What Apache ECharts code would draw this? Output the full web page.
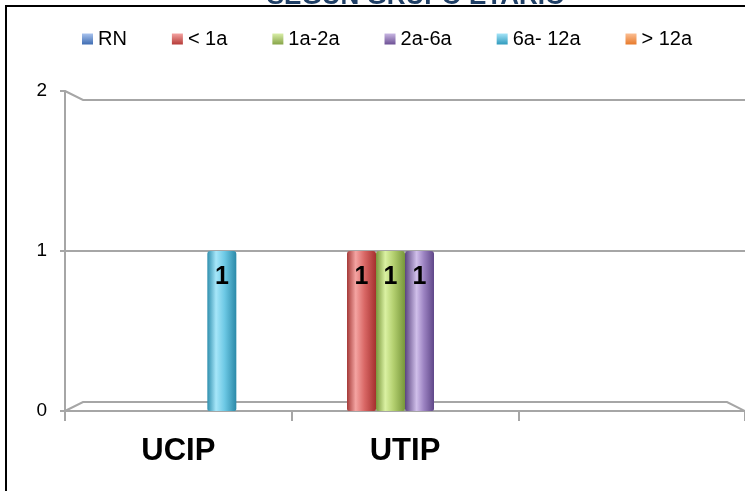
<!DOCTYPE html>
<html>
<head>
<meta charset="utf-8">
<script src="https://cdn.jsdelivr.net/npm/echarts@6/dist/echarts.min.js"></script>
<style>
html,body{margin:0;padding:0;background:#fff;}
#chart{width:745px;height:491px;}
</style>
</head>
<body>
<div id="chart"></div>
<script>
// ---- data ----
const titleText = 'SEGÚN GRUPO ETARIO';
const categories = ['UCIP', 'UTIP', ''];
const seriesNames = ['RN', '< 1a', '1a-2a', '2a-6a', '6a- 12a', '> 12a'];
const rn      = [null, null, null];
const lt1a    = [null, 1, null];
const a1to2   = [null, 1, null];
const a2to6   = [null, 1, null];
const a6to12  = [1, null, null];
const gt12a   = [null, null, null];
const yTicks  = [0, 1, 2];

const seriesData = [rn, lt1a, a1to2, a2to6, a6to12, gt12a];

// ---- styles ----
const FONT = 'Liberation Sans, Arial, sans-serif';
function hGrad(stops) {
  return new echarts.graphic.LinearGradient(0, 0, 1, 0, stops.map(c => ({offset: c[0], color: c[1]})));
}
function vGrad(top, bottom) {
  return new echarts.graphic.LinearGradient(0, 0, 0, 1, [{offset: 0, color: top}, {offset: 1, color: bottom}]);
}
const barColors = [
  hGrad([[0,'#3A64A8'],[0.3,'#A9C4F0'],[0.6,'#6F95D6'],[1,'#355E9F']]),
  hGrad([[0,'#A53A38'],[0.3,'#F4A4A2'],[0.6,'#D96866'],[1,'#A5302E']]),
  hGrad([[0,'#7A973C'],[0.32,'#DAF1A2'],[0.6,'#B4D070'],[1,'#77963A']]),
  hGrad([[0,'#5A4480'],[0.4,'#D0BFEA'],[0.65,'#9C83C2'],[1,'#5F4788']]),
  hGrad([[0,'#2F8FAE'],[0.3,'#A6E6F9'],[0.6,'#6CC8E4'],[1,'#2B89A8']]),
  hGrad([[0,'#D06A22'],[0.3,'#FCC59E'],[0.6,'#F39A58'],[1,'#CC6820']])
];
const legendColors = [
  vGrad('#A9C3EE', '#3E6CB2'),
  vGrad('#F4A3A1', '#B53A37'),
  vGrad('#D9EEA8', '#86A447'),
  vGrad('#C8B6E2', '#6D5095'),
  vGrad('#A4E4F8', '#2F9ABD'),
  vGrad('#FBBE93', '#E77A2A')
];
const GRID_LEFT = 65, GRID_RIGHT = 0, GRID_TOP = 91, GRID_BOTTOM = 80;
const LINE = '#A6A6A6';

const chart = echarts.init(document.getElementById('chart'), null, {renderer: 'canvas'});

const option = {
  animation: false,
  backgroundColor: '#ffffff',
  textStyle: {fontFamily: FONT},
  legend: {
    left: 82, top: 29, padding: 0,
    itemWidth: 11, itemHeight: 11, itemGap: 45,
    icon: 'rect',
    textStyle: {fontSize: 20, color: '#000', fontFamily: FONT},
    data: seriesNames.map((n, i) => ({name: n, itemStyle: {color: legendColors[i]}}))
  },
  grid: {left: GRID_LEFT, right: GRID_RIGHT, top: GRID_TOP, bottom: GRID_BOTTOM, containLabel: false},
  xAxis: {
    type: 'category',
    data: categories,
    axisLine: {show: true, lineStyle: {color: LINE, width: 2}},
    axisTick: {show: true, length: 10, lineStyle: {color: LINE, width: 2}},
    axisLabel: {fontSize: 31, fontWeight: 'bold', color: '#000', margin: 25, fontFamily: FONT}
  },
  yAxis: {
    type: 'value',
    min: yTicks[0], max: yTicks[yTicks.length - 1], interval: 1,
    axisLine: {show: true, lineStyle: {color: LINE, width: 2}},
    axisTick: {show: true, length: 5, lineStyle: {color: LINE, width: 2}},
    axisLabel: {fontSize: 19, color: '#000', margin: 18, fontFamily: FONT},
    splitLine: {show: false}
  },
  series: seriesNames.map((n, i) => ({
    name: n,
    type: 'bar',
    data: seriesData[i],
    barWidth: 29,
    barGap: '0%',
    itemStyle: {color: barColors[i], borderRadius: [3, 3, 2, 2]},
    label: {
      show: true, position: 'insideTop', distance: 14,
      fontSize: 25, fontWeight: 'bold', color: '#000', fontFamily: FONT,
      formatter: p => (p.value == null ? '' : String(p.value))
    },
    z: 3
  }))
};
chart.setOption(option);

// 3D-style wall / floor decoration derived from the axis scale
const W = 745, DX = 18, DY = 9;
const y0 = chart.convertToPixel({yAxisIndex: 0}, yTicks[0]);
const y1 = chart.convertToPixel({yAxisIndex: 0}, yTicks[1]);
const y2 = chart.convertToPixel({yAxisIndex: 0}, yTicks[2]);
const gl = GRID_LEFT;
const lineStyle = {stroke: LINE, lineWidth: 2, fill: null};
chart.setOption({
  graphic: [
    {type: 'polyline', z: 1, shape: {points: [[gl, y2], [gl + DX, y2 + DY], [W, y2 + DY]]}, style: lineStyle, silent: true},
    {type: 'line', z: 1, shape: {x1: gl - 3, y1: y1, x2: W, y2: y1}, style: lineStyle, silent: true},
    {type: 'polyline', z: 1, shape: {points: [[gl, y0], [gl + DX, y0 - DY], [W - DX, y0 - DY], [W, y0]]}, style: lineStyle, silent: true},
    {type: 'rect', z: 10, shape: {x: 6, y: 6, width: 800, height: 600}, style: {stroke: '#000', lineWidth: 2, fill: null}, silent: true},
    {type: 'text', z: 10, style: {text: titleText, x: 416, y: 10, align: 'center', verticalAlign: 'bottom',
      font: 'bold 26px ' + FONT, fill: '#1F3F66'}, silent: true}
  ]
});
</script>
</body>
</html>
